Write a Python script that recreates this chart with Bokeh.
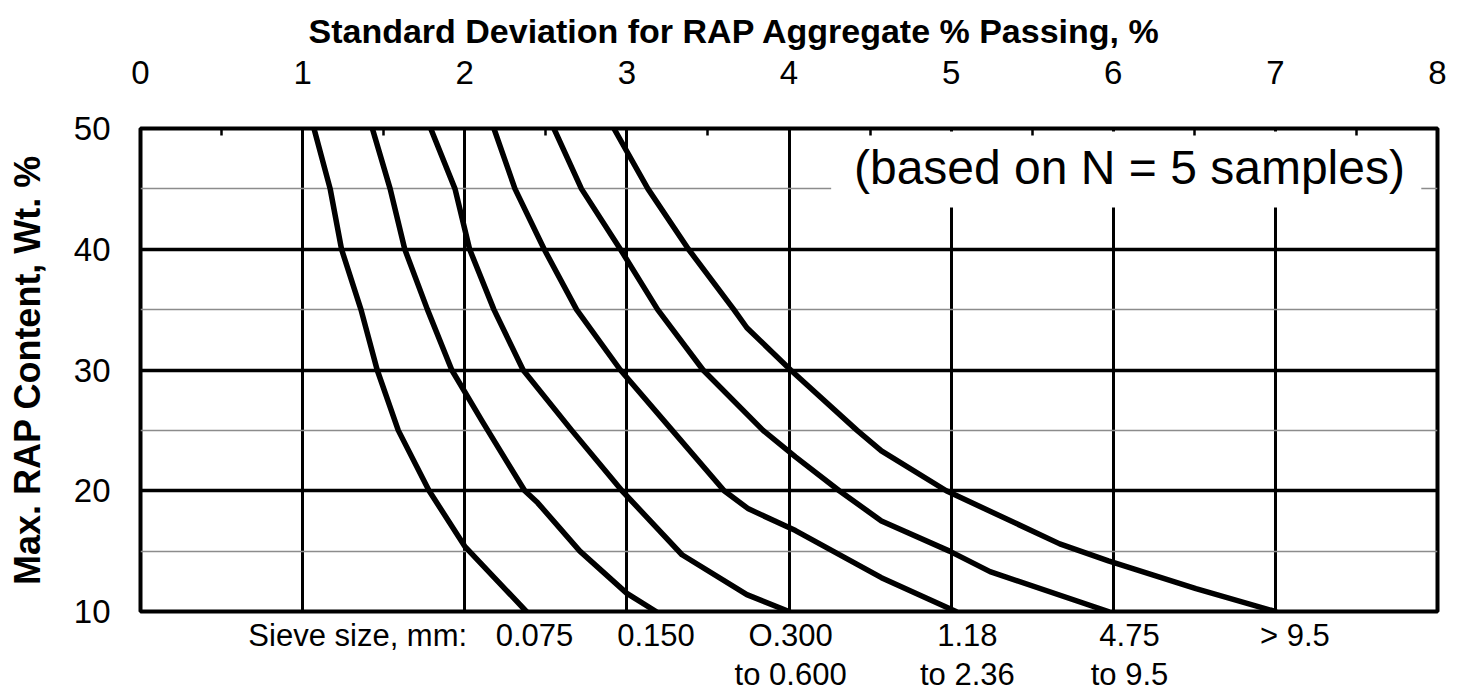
from bokeh.plotting import figure
from bokeh.models import Range1d, FixedTicker, Label, BoxAnnotation, LinearAxis
from bokeh.embed import file_html
from bokeh.resources import INLINE

# ---------------- data ----------------
x_ticks = [0, 1, 2, 3, 4, 5, 6, 7, 8]
y_ticks = [10, 20, 30, 40, 50]
x_title = "Standard Deviation for RAP Aggregate % Passing, %"
y_title = "Max. RAP Content, Wt. %"
note_text = "(based on N = 5 samples)"
sieve_caption = "Sieve size, mm:"
sieve_row1 = ["0.075", "0.150", "O.300", "1.18", "4.75", "> 9.5"]
sieve_row2 = ["", "", "to 0.600", "to 2.36", "to 9.5", ""]

# curves: standard deviation (x) vs max RAP content (y)
sd_0075 = [1.07, 1.17, 1.24, 1.36, 1.46, 1.59, 1.78, 2.00, 2.38]
rap_0075 = [50, 45, 40, 35, 30, 25, 20, 15.4, 10]

sd_0150 = [1.43, 1.54, 1.63, 1.77, 1.92, 2.11, 2.37, 2.45, 2.71, 3.00, 3.18]
rap_0150 = [50, 45, 40, 35, 30, 25.7, 20, 19, 15, 11.5, 10]

sd_0300 = [1.79, 1.94, 2.03, 2.18, 2.36, 2.66, 2.97, 3.34, 3.74, 4.00]
rap_0300 = [50, 45, 40, 35, 30, 25, 20, 14.7, 11.4, 10]

sd_118 = [2.18, 2.31, 2.49, 2.69, 2.96, 3.28, 3.60, 3.75, 4.04, 4.57, 5.03]
rap_118 = [50, 45, 40, 35, 30, 25, 20, 18.5, 16.7, 12.8, 10]

sd_475 = [2.55, 2.72, 2.96, 3.19, 3.47, 3.84, 4.04, 4.31, 4.57, 4.99, 5.24, 5.97]
rap_475 = [50, 45, 40, 35, 30, 25, 22.8, 20, 17.5, 15, 13.3, 10]

sd_95 = [2.92, 3.13, 3.38, 3.66, 3.74, 4.01, 4.42, 4.57, 4.97, 5.67, 5.97, 6.51, 7.00]
rap_95 = [50, 45, 40, 35, 33.5, 30, 25, 23.3, 20, 15.6, 14.2, 11.9, 10]

curves = [(sd_0075, rap_0075), (sd_0150, rap_0150), (sd_0300, rap_0300),
          (sd_118, rap_118), (sd_475, rap_475), (sd_95, rap_95)]

# ---------------- layout ----------------
FONT = "Liberation Sans"
label_centers = [2.43, 3.18, 4.01, 5.10, 6.10, 7.12]
caption_center = 1.34

p = figure(width=1459, height=694,
           x_range=Range1d(0, 8), y_range=Range1d(10, 50),
           x_axis_location="above",
           output_backend="svg", toolbar_location=None,
           min_border_left=140, min_border_right=22,
           min_border_top=128, min_border_bottom=83)
p.background_fill_color = "white"
p.border_fill_color = "white"
p.outline_line_color = "black"
p.outline_line_width = 4

# title (above the top axis)
p.title.text = x_title
p.title.align = "left"
p.title.offset = 168
p.title.standoff = 15
p.title.text_font = FONT
p.title.text_font_style = "bold"
p.title.text_font_size = "34px"
p.title.text_color = "black"

# top x axis
xa = p.xaxis[0]
xa.ticker = FixedTicker(ticks=x_ticks, minor_ticks=[t + 0.5 for t in x_ticks[:-1]])
xa.axis_line_color = None
xa.major_tick_in = 0
xa.major_tick_out = 0
xa.minor_tick_in = 7
xa.minor_tick_out = 0
xa.minor_tick_line_width = 2.5
xa.minor_tick_line_color = "black"
xa.major_label_text_font = FONT
xa.major_label_text_font_size = "33px"
xa.major_label_text_color = "black"
xa.major_label_standoff = 45

# left y axis
ya = p.yaxis[0]
ya.ticker = FixedTicker(ticks=y_ticks)
ya.axis_line_color = None
ya.major_tick_in = 0
ya.major_tick_out = 0
ya.minor_tick_in = 0
ya.minor_tick_out = 0
ya.major_label_text_font = FONT
ya.major_label_text_font_size = "33px"
ya.major_label_text_color = "black"
ya.major_label_standoff = 30
ya.axis_label = y_title
ya.axis_label_text_font = FONT
ya.axis_label_text_font_style = "bold"
ya.axis_label_text_font_size = "36px"
ya.axis_label_text_color = "black"
ya.axis_label_standoff = 23

# bottom rows of sieve-size labels, as two tick-label-only axes
def label_axis(ticks, texts, standoff):
    ax = LinearAxis(ticker=FixedTicker(ticks=ticks),
                    major_label_overrides={t: s for t, s in zip(ticks, texts)})
    ax.axis_line_color = None
    ax.major_tick_in = 0
    ax.major_tick_out = 0
    ax.minor_tick_in = 0
    ax.minor_tick_out = 0
    ax.major_label_text_font = FONT
    ax.major_label_text_font_size = "31px"
    ax.major_label_text_color = "black"
    ax.major_label_standoff = standoff
    return ax

row1_ticks = [caption_center] + label_centers
row1_texts = [sieve_caption] + sieve_row1
p.add_layout(label_axis(row1_ticks, row1_texts, 6), "below")
row2_ticks = [c for c, t in zip(label_centers, sieve_row2) if t]
row2_texts = [t for t in sieve_row2 if t]
p.add_layout(label_axis(row2_ticks, row2_texts, 1), "below")

# grids
p.xgrid.ticker = FixedTicker(ticks=x_ticks[1:-1])
p.xgrid.grid_line_color = "black"
p.xgrid.grid_line_width = 3
p.ygrid.ticker = FixedTicker(ticks=y_ticks[1:-1], minor_ticks=[15, 25, 35, 45])
p.ygrid.grid_line_color = "black"
p.ygrid.grid_line_width = 3.5
p.ygrid.minor_grid_line_color = "#8c8c8c"
p.ygrid.minor_grid_line_width = 1.5

# white box behind the note (hides grid lines there)
p.add_layout(BoxAnnotation(left=4.26, right=7.90, bottom=43.46, top=49.75,
                           fill_color="white", fill_alpha=1.0,
                           line_color=None, level="underlay"))

# curves
for sd, rap in curves:
    p.line(sd, rap, line_color="black", line_width=5.5,
           line_join="round", line_cap="round")

# note
p.add_layout(Label(x=6.10, y=46.8, text=note_text, text_align="center",
                   text_baseline="alphabetic", text_font=FONT,
                   text_font_size="48px", text_color="black"))

open("out.html", "w").write(file_html(p, INLINE))
